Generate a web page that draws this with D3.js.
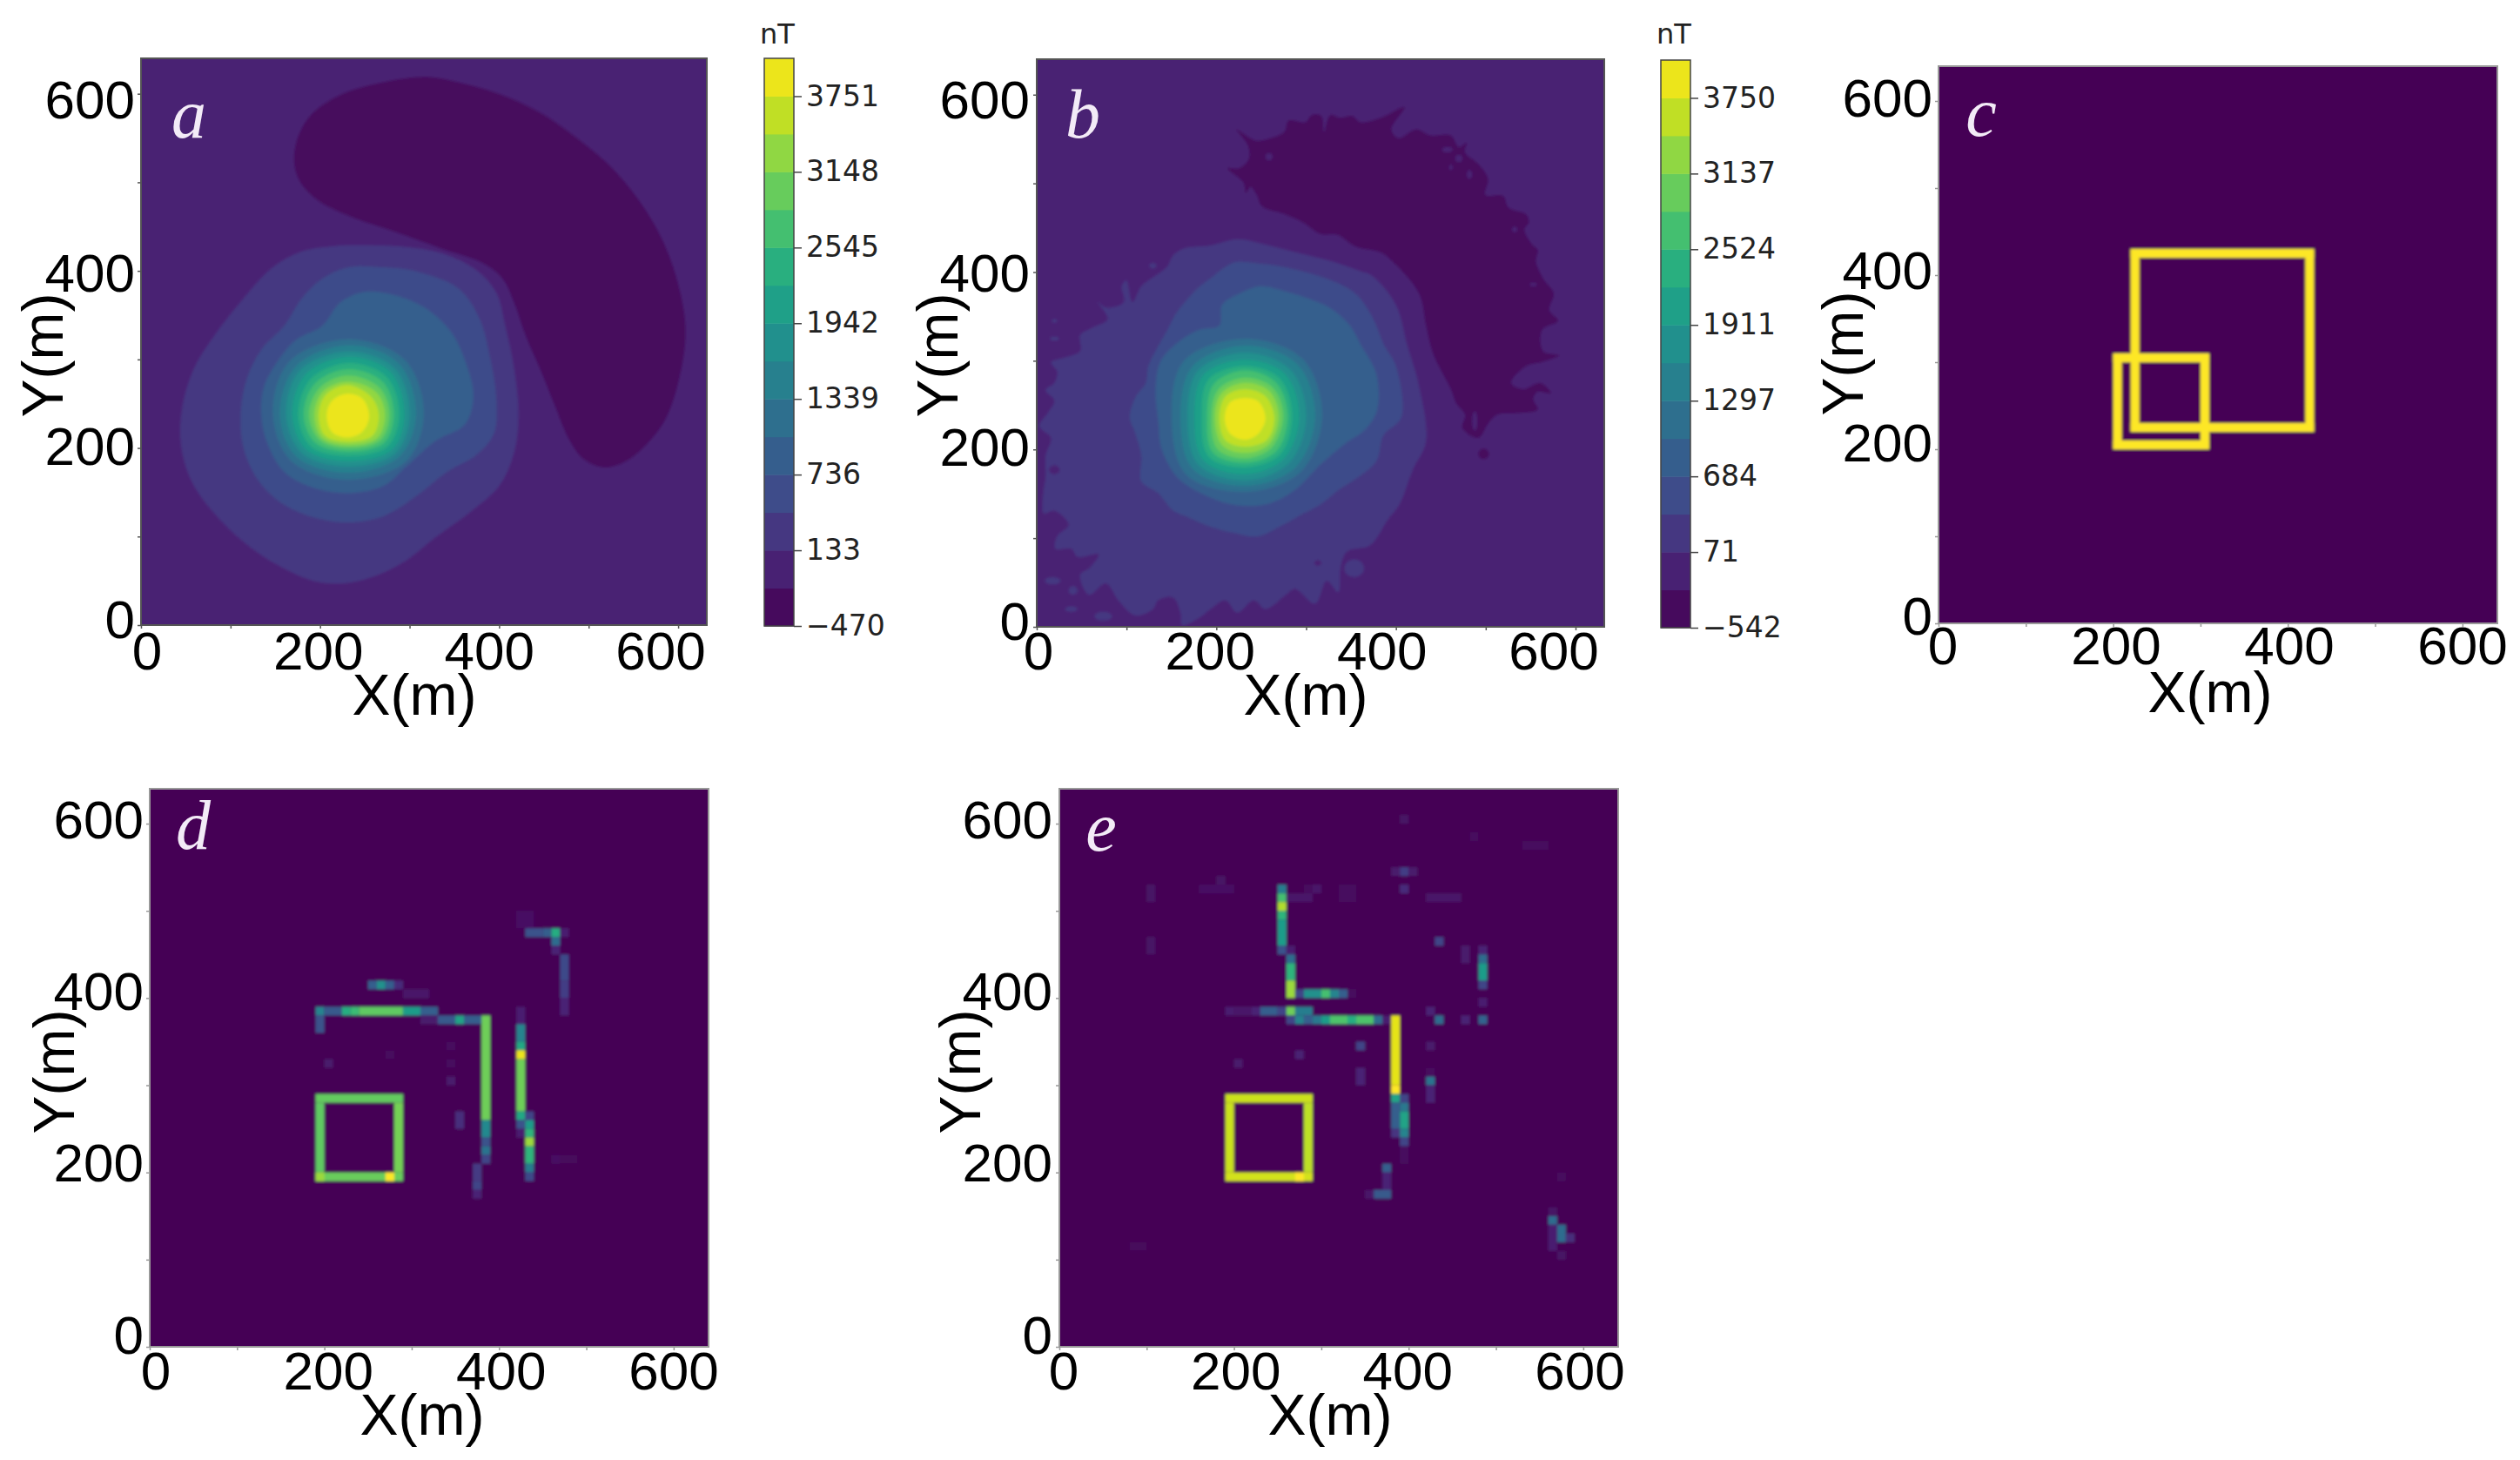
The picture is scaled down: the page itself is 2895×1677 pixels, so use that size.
<!DOCTYPE html>
<html>
<head>
<meta charset="utf-8">
<script src="https://cdnjs.cloudflare.com/ajax/libs/d3/7.8.5/d3.min.js"></script>
<style>
body { margin: 0; background: #fff; }
svg { display: block; }
</style>
</head>
<body>
<div id="chart"></div>
<script>
// contour levels of the two colour bars (nT)
var aLevels = [-470, -168.5, 133, 434.5, 736, 1037.5, 1339, 1640.5, 1942, 2243.5, 2545, 2846.5, 3148, 3449.5, 3751, 4052.5];
var bLevels = [-542, -235.5, 71, 377.5, 684, 990.5, 1297, 1604, 1911, 2217.5, 2524, 2830.5, 3137, 3443.5, 3750, 4056.5];
var aTicks = [-470, 133, 736, 1339, 1942, 2545, 3148, 3751];
var bTicks = [-542, 71, 684, 1297, 1911, 2524, 3137, 3750];
var axisTicks = [0, 100, 200, 300, 400, 500, 600];
var axisLabels = [0, 200, 400, 600];

// panel a, contour outlines in metres
var aBand0 = [[323,619],[274,613],[228,600],[195,579],[179,555],[173,526],[179,502],[198,481],[235,462],[287,444],[340,425],[386,409],[409,391],[422,364],[435,327],[451,290],[468,248],[484,210],[501,187],[524,178],[547,184],[570,202],[593,232],[609,279],[616,332],[609,380],[593,428],[570,470],[537,512],[497,547],[451,579],[405,600],[359,613]];
var aBand2 = [[218,428],[182,422],[149,404],[116,369],[83,327],[60,290],[47,248],[45,205],[57,163],[83,126],[116,94],[156,67],[195,50],[228,47],[261,54],[300,73],[333,99],[373,128],[405,157],[422,195],[427,237],[422,290],[412,338],[402,375],[379,401],[340,420],[300,427],[261,429]];
var aBand3 = [[235,404],[205,391],[182,369],[162,338],[136,311],[120,279],[113,242],[116,200],[133,163],[162,136],[202,120],[235,116],[274,123],[313,147],[346,173],[379,192],[399,216],[402,253],[395,301],[382,348],[359,380],[313,399],[274,404]];
var aBand4 = [[251,376],[225,364],[205,338],[175,322],[156,300],[139,269],[136,237],[143,205],[162,173],[195,155],[235,149],[274,157],[300,179],[333,208],[366,226],[376,258],[366,300],[350,332],[320,359],[281,374]];
var aPeak = [
  [[149,240],[168,298],[234,323],[298,300],[320,240],[300,185],[234,164],[170,185]],
  [[157,238],[175,292],[235,316],[292,295],[311,238],[292,190],[234,172],[176,190]],
  [[164,238],[180,288],[235,309],[287,290],[304,238],[288,194],[234,179],[182,194]],
  [[171,238],[186,283],[235,303],[282,286],[298,238],[284,198],[234,185],[187,198]],
  [[178,238],[192,278],[235,296],[278,280],[292,238],[279,202],[234,191],[192,202]],
  [[184,238],[197,273],[235,289],[274,274],[286,238],[275,206],[234,196],[197,206]],
  [[190,238],[202,268],[234,282],[270,268],[281,238],[271,209],[234,200],[202,209]],
  [[196,238],[206,264],[234,275],[266,263],[276,238],[267,211],[234,203],[205,211]],
  [[201,238],[209,260],[233,271],[260,258],[269,238],[262,214],[234,207],[208,214]],
  [[210,236],[215,252],[231,261],[250,256],[258,236],[250,218],[233,212],[216,218]]
];

// panel b, contour outlines in metres
var bBand0 = [[225,561],[241,551],[249,548],[279,558],[284,571],[303,569],[310,577],[321,576],[324,558],[331,577],[342,574],[356,576],[365,569],[388,574],[415,586],[400,561],[408,551],[428,561],[444,554],[467,554],[476,541],[485,546],[483,535],[498,522],[509,505],[506,487],[526,486],[532,473],[552,465],[555,456],[550,448],[558,432],[565,425],[563,412],[571,393],[583,376],[578,357],[588,345],[570,335],[571,311],[589,306],[571,299],[552,294],[535,275],[548,268],[568,275],[580,263],[565,265],[560,257],[565,245],[542,241],[519,239],[509,229],[498,213],[480,224],[483,239],[473,252],[467,268],[447,308],[439,340],[431,376],[401,412],[388,422],[359,429],[339,442],[320,443],[300,456],[280,465],[254,474],[248,487],[241,496],[236,489],[233,501],[215,517],[228,517],[239,527],[238,543]];
var bBand2 = [[226,437],[196,430],[167,427],[154,419],[147,406],[134,396],[118,384],[108,366],[101,391],[96,384],[98,366],[78,360],[69,366],[80,347],[62,337],[49,329],[49,311],[33,304],[16,298],[23,288],[20,275],[10,267],[20,255],[13,242],[3,226],[16,213],[10,193],[10,170],[7,147],[8,128],[20,131],[36,115],[23,102],[21,88],[39,88],[46,79],[70,82],[59,66],[49,59],[59,36],[78,49],[92,30],[111,13],[131,20],[137,30],[154,33],[162,16],[164,2],[183,10],[196,20],[213,30],[226,16],[245,30],[258,20],[281,36],[291,43],[314,26],[327,52],[340,39],[343,69],[350,85],[376,92],[396,121],[409,138],[424,177],[439,209],[431,272],[418,317],[405,363],[378,396],[365,401],[333,412],[293,422],[254,432]];
var bBand3 = [[224,411],[213,406],[196,393],[183,383],[157,353],[147,334],[134,311],[126,294],[123,275],[111,258],[105,236],[111,219],[118,193],[118,164],[137,151],[154,131],[170,124],[196,113],[222,106],[249,102],[278,115],[301,128],[320,138],[340,154],[360,167],[383,187],[391,216],[411,236],[405,294],[392,317],[378,350],[359,376],[326,393],[277,406],[255,409]];
var bBand4 = [[252,384],[229,376],[209,363],[206,340],[183,335],[157,319],[139,298],[134,265],[137,232],[141,200],[160,167],[193,147],[226,137],[262,139],[291,154],[320,183],[347,206],[370,222],[384,245],[383,285],[366,317],[353,340],[330,360],[304,371],[278,379]];
var bPeak = [
  [[152,238],[166,300],[235,325],[300,302],[322,238],[298,175],[235,152],[168,172]],
  [[162,238],[176,294],[235,317],[294,296],[314,238],[292,180],[235,159],[176,178]],
  [[170,238],[182,289],[235,309],[286,290],[304,238],[285,185],[235,165],[182,183]],
  [[178,238],[188,284],[235,301],[280,285],[296,238],[279,190],[235,172],[188,188]],
  [[186,238],[194,279],[235,294],[274,280],[288,238],[274,194],[235,180],[194,192]],
  [[192,238],[200,274],[235,289],[270,275],[283,238],[270,198],[235,185],[199,196]],
  [[197,238],[205,268],[235,281],[266,270],[278,238],[265,202],[235,190],[204,200]],
  [[201,238],[209,264],[235,275],[262,266],[273,238],[262,206],[235,196],[209,205]],
  [[206,236],[213,260],[235,268],[258,260],[268,236],[260,211],[235,203],[213,210]],
  [[212,235],[218,253],[235,258],[250,254],[258,235],[250,218],[235,211],[218,218]]
];
// small islands of panel b: band, x, y, half width, half height (metres)
var bIslands = [[1,262,530,4,4],[1,463,538,6,3],[1,476,528,4,4],[1,467,518,2,3],[1,488,510,3,5],[1,539,448,3,3],[1,560,386,4,2],[1,580,415,1,3],[1,494,232,3,11],[0,504,195,6,6],[1,20,177,6,5],[2,20,345,3,2],[2,20,325,5,2],[2,131,407,4,3],[2,358,66,11,10],[2,18,52,9,4],[2,41,41,5,5],[2,39,20,7,3],[2,75,12,10,5],[1,317,72,4,3],[1,294,21,3,5]];

// panel c, the two prisms as [x0, x1, y0, y1]
var cRings = [[220,430,220,430],[200,310,200,310]];
var ringCell = 10;

// panel d, runs of cells as [x0, x1, y0, y1, value 0-1]
var dCells = [
  [190,290,280,290,.76],[190,290,190,200,.77],[190,200,200,280,.75],[280,290,200,280,.79],[190,200,190,200,.85],[270,280,190,200,1],
  [190,200,380,390,.45],[200,220,380,390,.28],[220,230,380,390,.62],[230,240,380,390,.68],[240,290,380,390,.75],[290,310,380,390,.55],[310,330,380,390,.3],
  [190,200,360,380,.25],[250,260,410,420,.3],[260,270,410,420,.5],[270,280,410,420,.3],[280,290,410,420,.12],[290,320,400,410,.06],
  [310,330,370,380,.07],[330,350,370,380,.28],[350,360,370,380,.58],[360,380,370,380,.3],
  [380,390,260,380,.78],[380,390,240,260,.47],[380,390,230,240,.25],[380,390,220,230,.38],[380,390,210,220,.2],
  [370,380,190,210,.17],[370,380,180,190,.2],[370,380,170,180,.1],
  [350,360,250,270,.13],[340,350,300,310,.07],[340,350,340,350,.03],[340,350,320,330,.03],
  [420,430,370,390,.08],[420,430,350,370,.45],[420,430,340,350,.6],[420,430,330,340,.97],[420,430,270,330,.78],[420,430,260,270,.6],[420,430,250,260,.25],[420,430,240,250,.08],
  [430,440,260,270,.2],[430,440,250,260,.55],[430,440,240,250,.65],[430,440,230,240,.85],[430,440,210,230,.65],[430,440,200,210,.42],[430,440,190,200,.22],
  [430,450,470,480,.25],[450,460,470,480,.3],[460,470,470,480,.62],[470,480,470,480,.08],[460,470,460,470,.35],[460,470,450,460,.1],
  [470,480,420,450,.22],[470,480,400,420,.18],[470,480,380,400,.1],[420,440,480,500,.04],
  [460,470,210,220,.04],[470,490,210,220,.02],[200,210,320,330,.07],[270,280,330,340,.03]
];

// panel e, same layout
var eCells = [
  [190,290,280,290,.92],[190,290,190,200,.93],[190,200,200,280,.92],[280,290,200,280,.9],[270,280,190,200,1],
  [250,260,520,530,.42],[250,260,510,520,.7],[250,260,500,510,.88],[250,260,490,500,.65],[250,260,460,490,.55],[250,260,450,460,.25],
  [260,270,450,460,.08],[260,270,440,450,.35],[260,270,420,440,.65],[260,270,400,420,.85],
  [270,280,400,410,.2],[280,300,400,410,.5],[300,310,400,410,.7],[310,320,400,410,.45],[320,330,400,410,.3],[330,340,400,410,.03],
  [190,200,380,390,.08],[200,220,380,390,.06],[220,230,380,390,.1],[230,250,380,390,.3],[250,260,380,390,.2],[260,270,380,390,.78],[270,290,380,390,.42],
  [260,270,370,380,.2],[270,280,370,380,.45],[280,290,370,380,.3],[290,300,370,380,.4],[300,310,370,380,.55],[310,330,370,380,.72],[330,340,370,380,.62],[340,360,370,380,.72],[360,370,370,380,.35],[370,380,370,380,.08],
  [380,390,300,380,.96],[380,390,290,300,1],[380,390,280,290,.58],[380,390,250,280,.3],[380,390,240,250,.15],
  [390,400,280,290,.2],[390,400,270,280,.4],[390,400,250,270,.58],[390,400,240,250,.45],[390,400,230,240,.2],[390,400,210,230,.03],
  [370,380,200,210,.3],[370,380,180,200,.1],[360,380,170,180,.28],[350,360,170,180,.06],
  [340,350,340,350,.2],[340,350,300,320,.1],
  [420,430,380,390,.1],[420,430,340,350,.07],[420,430,300,310,.38],[420,430,280,300,.1],[420,430,310,320,.03],
  [430,440,460,470,.2],[430,440,370,380,.35],[460,470,370,380,.1],[460,470,440,460,.07],
  [480,490,450,460,.1],[480,490,440,450,.35],[480,490,420,440,.55],[480,490,410,420,.2],[480,490,390,400,.08],[480,490,370,380,.32],
  [160,200,520,530,.04],[180,190,530,540,.05],[280,300,520,530,.03],[290,300,520,530,.06],[260,290,510,520,.06],[320,340,510,530,.03],[390,400,520,530,.12],
  [420,460,510,520,.06],[390,400,540,550,.18],[380,390,540,550,.07],[400,410,540,550,.07],[390,400,600,610,.05],[470,480,580,590,.03],[530,560,570,580,.03],
  [100,110,510,530,.05],[100,110,450,470,.05],[80,100,110,120,.02],
  [560,570,140,150,.35],[570,580,120,140,.35],[560,570,110,140,.08],[580,590,120,130,.13],[570,580,100,110,.05],[560,570,150,160,.05],[570,580,190,200,.03],
  [200,210,320,330,.07],[270,280,330,340,.09]
];

var WIDTH = 2895, HEIGHT = 1677;
var svg = d3.select("#chart").append("svg").attr("width", WIDTH).attr("height", HEIGHT);
var defs = svg.append("defs");
defs.append("filter").attr("id", "soft").append("feGaussianBlur").attr("stdDeviation", 1.8);

function bandColor(i) {
  return d3.interpolateViridis(0.025 + 0.945 * i / 14);
}

// axes, tick marks and labels that every panel shares. The labels were pasted
// on in the original, so they get their own scales and do not sit on the ticks.
function drawFrame(p) {
  var x = d3.scaleLinear().domain([0, 640]).range([p.left, p.right]);
  var y = d3.scaleLinear().domain([0, 640]).range([p.bottom, p.top]);
  var g = svg.append("g");

  defs.append("clipPath").attr("id", "clip-" + p.name).append("rect")
    .attr("x", p.left).attr("y", p.top)
    .attr("width", p.right - p.left).attr("height", p.bottom - p.top);

  g.append("rect").attr("x", p.left).attr("y", p.top)
    .attr("width", p.right - p.left).attr("height", p.bottom - p.top)
    .style("fill", p.back);

  var body = g.append("g").attr("clip-path", "url(#clip-" + p.name + ")")
    .append("g").attr("filter", "url(#soft)");
  body.append("rect").attr("x", p.left - 10).attr("y", p.top - 10)
    .attr("width", p.right - p.left + 20).attr("height", p.bottom - p.top + 20)
    .style("fill", p.back);

  var tickX = d3.scaleLinear().domain([0, p.tickMax]).range([p.left, p.right]);
  var xAxis = g.append("g").attr("transform", "translate(0," + p.bottom + ")")
    .call(d3.axisBottom(tickX).tickValues(axisTicks).tickSize(4).tickFormat(""));
  var yAxis = g.append("g").attr("transform", "translate(" + p.left + ",0)")
    .call(d3.axisLeft(y).tickValues(axisTicks).tickSize(4).tickFormat(""));
  [xAxis, yAxis].forEach(function (a) {
    a.select(".domain").remove();
    a.selectAll("line").style("stroke", p.spine).style("stroke-width", 1.5);
  });

  g.append("rect").attr("x", p.left).attr("y", p.top)
    .attr("width", p.right - p.left).attr("height", p.bottom - p.top)
    .style("fill", "none").style("stroke", p.spine).style("stroke-width", 2);

  var labelX = d3.scaleLinear().domain([0, 600]).range(p.labelX);
  var labelY = d3.scaleLinear().domain([0, 600]).range(p.labelY);

  g.selectAll(".xl").data(axisLabels).enter().append("text")
    .attr("x", labelX).attr("y", p.labelXAt)
    .attr("text-anchor", "middle").attr("dominant-baseline", "central")
    .style("font", "62px 'Liberation Sans'").text(function (d) { return d; });
  g.selectAll(".yl").data(axisLabels).enter().append("text")
    .attr("x", p.labelYAt).attr("y", labelY)
    .attr("text-anchor", "end").attr("dominant-baseline", "central")
    .style("font", "62px 'Liberation Sans'").text(function (d) { return d; });

  g.append("text").attr("x", p.xTitle[0]).attr("y", p.xTitle[1])
    .attr("text-anchor", "middle").attr("dominant-baseline", "central")
    .style("font", "66px 'Liberation Sans'").text("X(m)");
  g.append("text")
    .attr("transform", "translate(" + p.yTitle[0] + "," + p.yTitle[1] + ") rotate(-90)")
    .attr("text-anchor", "middle").attr("dominant-baseline", "central")
    .style("font", "66px 'Liberation Sans'").text("Y(m)");

  g.append("text").attr("x", p.mark[0]).attr("y", p.mark[1])
    .attr("text-anchor", "middle").attr("dominant-baseline", "central")
    .style("font", "italic 80px 'Liberation Serif'").style("fill", "#f3ebf7").text(p.name);

  return { x: x, y: y, body: body };
}

function drawContours(frame, bands) {
  var line = d3.line()
    .x(function (d) { return frame.x(d[0]); })
    .y(function (d) { return frame.y(d[1]); })
    .curve(d3.curveCatmullRomClosed.alpha(0.5));
  frame.body.selectAll(".band").data(bands).enter().append("path")
    .attr("d", function (d) { return line(d.pts); })
    .style("fill", function (d) { return bandColor(d.band); });
}

function drawCells(frame, cells) {
  frame.body.selectAll(".cell").data(cells).enter().append("rect")
    .attr("x", function (d) { return frame.x(d[0]); })
    .attr("width", function (d) { return frame.x(d[1]) - frame.x(d[0]); })
    .attr("y", function (d) { return frame.y(d[3]); })
    .attr("height", function (d) { return frame.y(d[2]) - frame.y(d[3]); })
    .style("fill", function (d) { return d3.interpolateViridis(d[4]); });
}

function drawColorbar(left, right, top, bottom, levels, ticks, titleX) {
  var scale = d3.scaleLinear().domain([levels[0], levels[15]]).range([bottom, top]);
  var g = svg.append("g");
  g.selectAll("rect").data(levels.slice(0, 15)).enter().append("rect")
    .attr("x", left).attr("width", right - left)
    .attr("y", function (d, i) { return scale(levels[i + 1]); })
    .attr("height", function (d, i) { return scale(levels[i]) - scale(levels[i + 1]) + 0.5; })
    .style("fill", function (d, i) { return bandColor(i); });
  g.append("rect").attr("x", left).attr("y", top)
    .attr("width", right - left).attr("height", bottom - top)
    .style("fill", "none").style("stroke", "#444").style("stroke-width", 1.5);

  var axis = g.append("g").attr("transform", "translate(" + right + ",0)")
    .call(d3.axisRight(scale).tickValues(ticks).tickSize(9).tickPadding(5)
      .tickFormat(function (d) { return String(d).replace("-", "\u2212"); }));
  axis.select(".domain").remove();
  axis.selectAll("line").style("stroke", "#444").style("stroke-width", 1.5);
  axis.selectAll("text").style("font", "33px 'DejaVu Sans'").style("fill", "#222");

  g.append("text").attr("x", titleX).attr("y", 39)
    .attr("text-anchor", "middle").attr("dominant-baseline", "central")
    .style("font", "32px 'DejaVu Sans'").style("fill", "#222").text("nT");
}

function bandList(first, second, third, fourth, peak) {
  var list = [{ band: 0, pts: first }, { band: 2, pts: second }, { band: 3, pts: third }, { band: 4, pts: fourth }];
  peak.forEach(function (pts, i) { list.push({ band: i + 5, pts: pts }); });
  return list;
}

// panel a
var frameA = drawFrame({
  name: "a", left: 162, right: 812, top: 67, bottom: 718, tickMax: 632,
  back: bandColor(1), spine: "#555",
  labelX: [169, 759], labelXAt: 747, labelY: [711, 114], labelYAt: 155,
  xTitle: [476, 798], yTitle: [49, 408], mark: [217, 131]
});
drawContours(frameA, bandList(aBand0, aBand2, aBand3, aBand4, aPeak));
drawColorbar(878, 912, 67, 719, aLevels, aTicks, 893);

// panel b
var frameB = drawFrame({
  name: "b", left: 1191, right: 1843, top: 68, bottom: 720, tickMax: 632,
  back: bandColor(1), spine: "#555",
  labelX: [1193, 1785], labelXAt: 747, labelY: [713, 114], labelYAt: 1183,
  xTitle: [1500, 798], yTitle: [1077, 408], mark: [1244, 131]
});
drawContours(frameB, bandList(bBand0, bBand2, bBand3, bBand4, bPeak));
frameB.body.selectAll(".island").data(bIslands).enter().append("ellipse")
  .attr("cx", function (d) { return frameB.x(d[1]); })
  .attr("cy", function (d) { return frameB.y(d[2]); })
  .attr("rx", function (d) { return frameB.x(d[3]) - frameB.x(0); })
  .attr("ry", function (d) { return frameB.y(0) - frameB.y(d[4]); })
  .style("fill", function (d) { return bandColor(d[0]); });
drawColorbar(1908, 1942, 69, 721, bLevels, bTicks, 1923);

// panel c, rings of full value cells
var frameC = drawFrame({
  name: "c", left: 2227, right: 2869, top: 76, bottom: 716, tickMax: 640,
  back: d3.interpolateViridis(0), spine: "#999",
  labelX: [2232, 2829], labelXAt: 741, labelY: [707, 112], labelYAt: 2220,
  xTitle: [2539, 795], yTitle: [2117, 406], mark: [2276, 129]
});
cRings.forEach(function (r) {
  drawCells(frameC, [
    [r[0], r[1], r[2], r[2] + ringCell, 1],
    [r[0], r[1], r[3] - ringCell, r[3], 1],
    [r[0], r[0] + ringCell, r[2], r[3], 1],
    [r[1] - ringCell, r[1], r[2], r[3], 1]
  ]);
});

// panel d
var frameD = drawFrame({
  name: "d", left: 172, right: 814, top: 906, bottom: 1547, tickMax: 640,
  back: d3.interpolateViridis(0), spine: "#999",
  labelX: [179, 774], labelXAt: 1574, labelY: [1533, 941], labelYAt: 165,
  xTitle: [485, 1625], yTitle: [62, 1231], mark: [222, 948]
});
drawCells(frameD, dCells);

// panel e
var frameE = drawFrame({
  name: "e", left: 1217, right: 1859, top: 906, bottom: 1547, tickMax: 640,
  back: d3.interpolateViridis(0), spine: "#999",
  labelX: [1222, 1815], labelXAt: 1574, labelY: [1533, 941], labelYAt: 1209,
  xTitle: [1528, 1625], yTitle: [1103, 1231], mark: [1265, 950]
});
drawCells(frameE, eCells);
</script>
</body>
</html>
